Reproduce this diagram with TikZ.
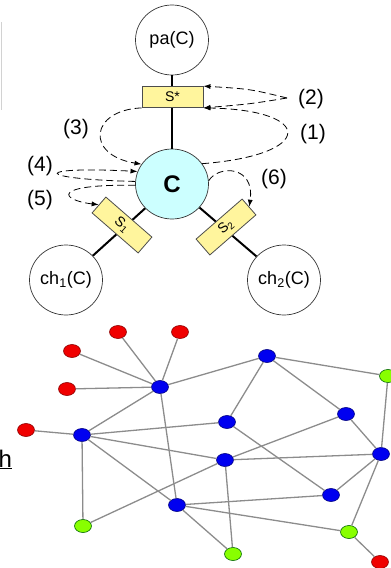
\documentclass[tikz,border=0pt]{standalone}
\usepackage{fontspec}
\setmainfont{Liberation Sans}
\usetikzlibrary{positioning,calc,arrows.meta,shapes.geometric}

\definecolor{sfill}{HTML}{FFF59D}
\definecolor{cfill}{HTML}{CCFFFF}
\definecolor{nred}{HTML}{F00000}
\definecolor{nblue}{HTML}{0000F0}
\definecolor{ngreen}{HTML}{88FF00}
\definecolor{egray}{HTML}{8C8C8C}

\tikzset{
    circ/.style={ellipse, draw=black!80, line width=.7pt, minimum width=73pt, minimum height=70pt, inner sep=0pt, font=\fontsize{18}{21}\selectfont},
    sbox/.style={rectangle, draw=black!70, line width=.8pt, fill=sfill, minimum width=61pt, minimum height=21pt, inner sep=0pt, font=\fontsize{14}{16}\selectfont},
    msg/.style={->, dash pattern=on 7pt off 4pt, line width=.8pt},
    lbl/.style={font=\fontsize{21}{24}\selectfont},
    link/.style={line width=2pt},
    vtx/.style={ellipse, line width=.6pt, minimum width=17pt, minimum height=13pt, inner sep=0pt},
    vred/.style={vtx, draw=red!55!black, fill=nred},
    vblue/.style={vtx, draw=blue!50!black, fill=nblue},
    vgreen/.style={vtx, draw=green!40!black, fill=ngreen},
    edge/.style={draw=egray, line width=1.3pt},
}

\begin{document}
\begin{tikzpicture}[x=1pt, y=-1pt, >={Latex[length=7pt,width=5pt]}]
    \useasboundingbox (0,0) rectangle (391,568);

    \draw [gray!35, line width=1pt] (1,22) -- (1,110);

    % cluster and its neighbours
    \node [circ] (pa) at (172,40) {pa(C)};
    \node [circ, fill=cfill, font=\fontsize{24}{28}\selectfont\bfseries] (c) at (172,184) {C};
    \node [circ] (ch1) at (66,280) {ch\textsubscript{1}(C)};
    \node [circ] (ch2) at (284,280) {ch\textsubscript{2}(C)};

    \draw [link] (pa) -- (c);
    \draw [link] (c) -- (ch1);
    \draw [link] (c) -- (ch2);

    % separators
    \node [sbox] (sstar) at (172.5,97) {S*};
    \node [sbox, rotate=-41] (s1) at (122,225) {S\textsubscript{1}};
    \node [sbox, rotate=41] (s2) at (226,227) {S\textsubscript{2}};

    % message passing steps
    \coordinate (k2) at (287,98);
    \draw [msg] (k2) .. controls (250,89) .. (sstar.north east);
    \draw [msg] (k2) .. controls (250,104) .. (sstar.south east);
    \draw [msg] (c.34) .. controls (315,155) and (315,110) .. (sstar.south east);
    \draw [msg] (sstar.south west) .. controls (90,110) and (85,155) .. (c.147);
    \draw [msg] (c.176) .. controls (32,179) and (32,166) .. (c.160);
    \draw [msg] (c.182) .. controls (50,184) and (60,200) .. (s1.west);
    \draw [msg] (c.5) .. controls (218,165) and (255,165) .. (s2.east);

    \node [lbl] (l1) at (313,134) {(1)};
    \node [lbl] (l2) at (311,99) {(2)};
    \node [lbl] (l3) at (76,129) {(3)};
    \node [lbl] (l4) at (40,166) {(4)};
    \node [lbl] (l5) at (40,200) {(5)};
    \node [lbl] (l6) at (274,179) {(6)};

    \node [anchor=base west, inner sep=0pt, font=\fontsize{24}{28}\selectfont] (hw) at (-1.5,467) {\underline{h}};

    % network
    \node [vred] (r1) at (118,332) {};
    \node [vred] (r2) at (180,332) {};
    \node [vred] (r3) at (72,351) {};
    \node [vred] (r4) at (67,389) {};
    \node [vred] (r5) at (26,430) {};
    \node [vred] (r6) at (380,562) {};

    \node [vblue] (b1) at (160,387) {};
    \node [vblue] (b2) at (267,356) {};
    \node [vblue] (b3) at (82,435) {};
    \node [vblue] (b4) at (227,422) {};
    \node [vblue] (b5) at (346,414) {};
    \node [vblue] (b6) at (225,460) {};
    \node [vblue] (b7) at (381,454) {};
    \node [vblue] (b8) at (331,495) {};
    \node [vblue] (b9) at (177,505) {};

    \node [vgreen] (g1) at (388,376) {};
    \node [vgreen] (g2) at (83,526) {};
    \node [vgreen] (g3) at (349,532) {};
    \node [vgreen] (g4) at (233,554) {};

    \foreach \a/\b in {r1/b1, r2/b1, r3/b1, r4/b1, b1/b2, b1/b3, b1/b9,
                       b2/g1, b2/b4, b2/b5, r5/b3, b3/b4, b3/b6, b3/b9, b3/g2,
                       b4/b8, b5/b6, b5/b7, b6/b7, b6/g2, b6/g4, b7/g1, b7/b8,
                       b7/g3, b9/b8, b9/g3, b9/g4, g3/r6}
        \draw [edge] (\a) -- (\b);

\end{tikzpicture}
\end{document}
